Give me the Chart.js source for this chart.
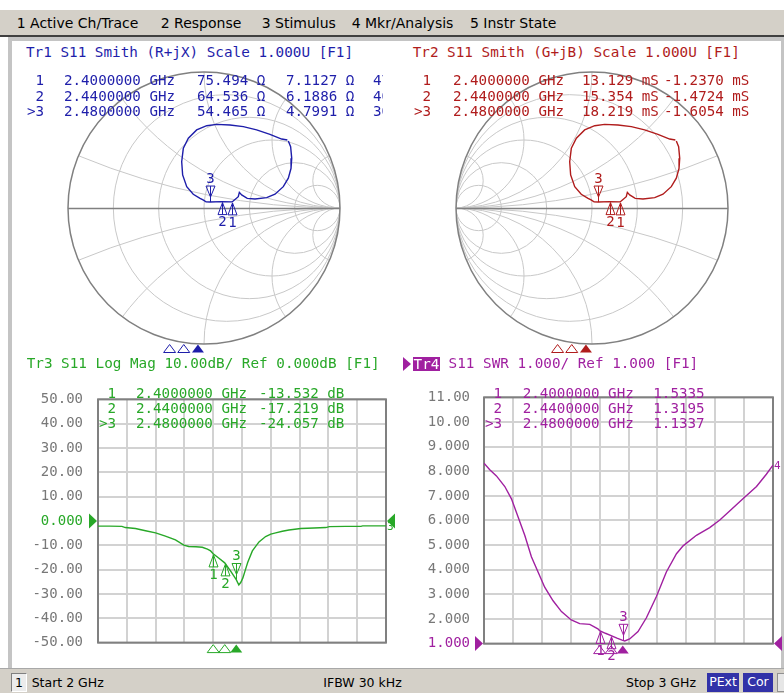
<!DOCTYPE html>
<html>
<head>
<meta charset="utf-8">
<title>S11 - 4 traces</title>
<script src="https://cdn.jsdelivr.net/npm/chart.js@4.4.1/dist/chart.umd.min.js"></script>
<style>
  html, body { margin: 0; padding: 0; }
  body { width: 784px; height: 693px; position: relative; overflow: hidden; background: #fff; font-family: "DejaVu Sans", sans-serif; }
  #menu { position: absolute; left: 0; top: 10px; width: 784px; height: 25px; background: #d4d0c8; border-bottom: 2px solid #404040; }
  #frame { position: absolute; left: 8px; top: 37px; width: 776px; height: 631px; box-sizing: border-box; border: 4px solid #c4c4c4; border-bottom: none; border-right-width: 3px; }
  #status { position: absolute; left: 0; top: 668px; width: 784px; height: 25px; background: #d4d0c8; border-top: 1px solid #a8a8a8; box-sizing: border-box; }
  canvas { position: absolute; z-index: 1; }
  .t { position: absolute; white-space: pre; line-height: 16px; z-index: 3; }
  .mono { font-family: "DejaVu Sans Mono", monospace; font-size: 14.2px; }
  .head { font-family: "DejaVu Sans Mono", monospace; font-size: 14.3px; }
  .ui { font-size: 14px; color: #000; }
  .st { font-size: 12.5px; color: #000; }
  .box { position: absolute; box-sizing: border-box; z-index: 3; text-align: center; font-size: 12.5px; line-height: 17px; }
</style>
</head>
<body>
<div id="menu"></div>
<div id="frame"></div>
<div id="status"></div>
<canvas id="smithZ" width="378" height="296" style="left:12px;top:60px"></canvas>
<canvas id="smithY" width="378" height="296" style="left:400px;top:60px"></canvas>
<canvas id="logMag" width="384" height="290" style="left:12px;top:376px"></canvas>
<canvas id="swr" width="384" height="291" style="left:400px;top:375px"></canvas>
<script>
  // --- data ---
  const freqGrid = [2.0, 2.1, 2.2, 2.3, 2.4, 2.5, 2.6, 2.7, 2.8, 2.9, 3.0];

  const logMagTicks = [50, 40, 30, 20, 10, 0, -10, -20, -30, -40, -50];
  const logMagTickLabels = ["50.00", "40.00", "30.00", "20.00", "10.00", "0.000", "-10.00", "-20.00", "-30.00", "-40.00", "-50.00"];
  const swrTicks = [11, 10, 9, 8, 7, 6, 5, 4, 3, 2, 1];
  const swrTickLabels = ["11.00", "10.00", "9.000", "8.000", "7.000", "6.000", "5.000", "4.000", "3.000", "2.000", "1.000"];

  // Tr3 log mag (GHz, dB)
  const logMagFreq = [2.000, 2.040, 2.083, 2.095, 2.130, 2.165, 2.200, 2.234, 2.269, 2.298,
    2.315, 2.340, 2.362, 2.380, 2.391, 2.400, 2.420, 2.440, 2.460, 2.480,
    2.489, 2.496, 2.503, 2.512, 2.520, 2.536, 2.559, 2.582, 2.600, 2.617,
    2.640, 2.663, 2.704, 2.750, 2.791, 2.803, 2.860, 2.913, 2.919, 3.000];
  const logMagDb = [-2.1, -2.1, -2.2, -2.7, -3.1, -4.0, -4.9, -6.2, -7.8, -9.9,
    -10.5, -10.6, -10.8, -11.6, -12.3, -13.5, -15.3, -17.2, -20.5, -24.1,
    -26.3, -25.2, -23.4, -20.0, -17.0, -12.3, -8.6, -6.4, -5.4, -4.9,
    -4.2, -3.7, -3.1, -2.9, -2.7, -2.3, -2.2, -2.2, -2.0, -2.0];

  // Tr4 SWR (GHz, ratio)
  const swrFreq = [2.000, 2.020, 2.043, 2.072, 2.095, 2.118, 2.141, 2.164, 2.187, 2.210,
    2.239, 2.268, 2.302, 2.331, 2.366, 2.394, 2.400, 2.420, 2.440, 2.460,
    2.480, 2.487, 2.504, 2.533, 2.562, 2.597, 2.631, 2.666, 2.689, 2.735,
    2.781, 2.816, 2.850, 2.896, 2.943, 2.977, 3.000];
  const swrVal = [8.33, 8.06, 7.81, 7.38, 6.88, 6.14, 5.40, 4.53, 3.91, 3.29,
    2.74, 2.30, 1.96, 1.81, 1.78, 1.60, 1.53, 1.42, 1.32, 1.22,
    1.13, 1.11, 1.19, 1.49, 2.05, 2.92, 3.91, 4.65, 4.97, 5.40,
    5.71, 6.02, 6.39, 6.88, 7.38, 7.88, 8.25];

  // Tr1/Tr2 reflection coefficient, in sweep order (same S11 on both Smith charts)
  const gammaRe = [0.620, 0.637, 0.645, 0.640, 0.620, 0.583, 0.522, 0.461, 0.375, 0.318,
    0.277, 0.260, 0.252, 0.215, 0.206, 0.130, 0.045, 0.015, -0.007, -0.029,
    -0.079, -0.127, -0.157, -0.164, -0.152, -0.115, -0.054, 0.020, 0.093, 0.191,
    0.289, 0.387, 0.485, 0.571, 0.613];
  const gammaIm = [0.493, 0.451, 0.365, 0.292, 0.219, 0.157, 0.101, 0.076, 0.066, 0.071,
    0.096, 0.115, 0.083, 0.051, 0.045, 0.047, 0.044, 0.045, 0.059, 0.071,
    0.101, 0.157, 0.243, 0.340, 0.439, 0.513, 0.574, 0.605, 0.615, 0.610,
    0.598, 0.574, 0.542, 0.507, 0.500];

  const smithCircles = [0.2, 0.5, 1, 2, 5];
  const smithArcs = [0.2, 0.5, 1, 2, 5];

  // markers
  const markerFreq = [2.4, 2.44, 2.48];
  const markerR = [75.494, 64.536, 54.465];
  const markerX = [7.1127, 6.1886, 4.7991];
  const markerL = [471.68, 403.67, 307.99];
  const markerG = [13.129, 15.354, 18.219];
  const markerB = [-1.2370, -1.4724, -1.6054];
  const markerLogMag = [-13.532, -17.219, -24.057];
  const markerSwr = [1.5335, 1.3195, 1.1337];
  const activeMarker = 2;

  const BLUE = "#1e1eaa", RED = "#b01c1c", GREEN = "#28a828", MAGENTA = "#a020a0";
  const GRID = "#d2d2d2", TICK = "#787878", SMITH_GRID = "#c8c8c8", EDGE = "#808080";

  // --- text helpers ---
  function addText(str, x, cy, color, cls, clipRight) {
    const el = document.createElement("div");
    el.className = "t " + cls;
    el.textContent = str;
    el.style.left = x + "px";
    el.style.top = (cy - 8) + "px";
    el.style.color = color;
    if (clipRight) {
      el.style.width = (clipRight - x) + "px";
      el.style.overflow = "hidden";
    }
    document.body.appendChild(el);
    return el;
  }
  function addBox(str, x, y, w, h, bg, fg, border) {
    const el = document.createElement("div");
    el.className = "box";
    el.textContent = str;
    Object.assign(el.style, { left: x + "px", top: y + "px", width: w + "px", height: h + "px", background: bg, color: fg, border: border || "none" });
    document.body.appendChild(el);
    return el;
  }

  const menuItems = [["1 Active Ch/Trace", 16.7], ["2 Response", 160.7], ["3 Stimulus", 261.7], ["4 Mkr/Analysis", 351.7], ["5 Instr State", 470]];
  menuItems.forEach(([s, x]) => addText(s, x, 23, "#000", "ui"));

  addText("Tr1 S11 Smith (R+jX) Scale 1.000U [F1]", 26, 51.7, BLUE, "head");
  addText("Tr2 S11 Smith (G+jB) Scale 1.000U [F1]", 412.7, 51.7, RED, "head");
  addText("Tr3 S11 Log Mag 10.00dB/ Ref 0.000dB [F1]", 26.7, 363.3, GREEN, "head");
  // active trace tag
  const tri = document.createElement("div");
  Object.assign(tri.style, { position: "absolute", left: "403px", top: "356.5px", width: 0, height: 0, borderLeft: "8px solid " + MAGENTA, borderTop: "7px solid transparent", borderBottom: "7px solid transparent", zIndex: 3 });
  document.body.appendChild(tri);
  const tag = addBox("Tr4", 413, 357, 27, 14, MAGENTA, "#fff");
  tag.style.fontFamily = '"DejaVu Sans Mono", monospace';
  tag.style.fontSize = "14.3px";
  tag.style.lineHeight = "14px";
  addText(" S11 SWR 1.000/ Ref 1.000 [F1]", 440, 363.3, MAGENTA, "head");

  const ghz = (f) => f.toFixed(7) + " GHz";
  const tag3 = (i) => (i === activeMarker ? ">" : " ") + (i + 1);
  const rowsTop = [80, 95.5, 111];
  const rowsBottom = [393, 408, 423];
  markerFreq.forEach((f, i) => {
    addText(tag3(i), 27, rowsTop[i], BLUE, "mono");
    addText(ghz(f), 64, rowsTop[i], BLUE, "mono");
    addText(markerR[i].toFixed(3) + " Ω", 197, rowsTop[i], BLUE, "mono");
    addText(markerX[i].toFixed(4) + " Ω", 286, rowsTop[i], BLUE, "mono");
    addText(markerL[i].toFixed(2) + " pH", 373, rowsTop[i], BLUE, "mono", 383);

    addText(tag3(i), 414, rowsTop[i], RED, "mono");
    addText(ghz(f), 453, rowsTop[i], RED, "mono");
    addText(markerG[i].toFixed(3) + " mS", 582, rowsTop[i], RED, "mono");
    addText(markerB[i].toFixed(4) + " mS", 664, rowsTop[i], RED, "mono");

    addText(tag3(i), 99, rowsBottom[i], GREEN, "mono");
    addText(ghz(f), 136, rowsBottom[i], GREEN, "mono");
    addText(markerLogMag[i].toFixed(3) + " dB", 259, rowsBottom[i], GREEN, "mono");

    addText(tag3(i), 485, rowsBottom[i], MAGENTA, "mono");
    addText(ghz(f), 522.7, rowsBottom[i], MAGENTA, "mono");
    addText(markerSwr[i].toFixed(4), 653.3, rowsBottom[i], MAGENTA, "mono");
  });

  // status bar
  addBox("1", 11, 673, 16, 19, "#ececec", "#000", "1px solid").style.borderColor = "#808080 #fff #fff #808080";
  addText("Start 2 GHz", 31.7, 682.5, "#000", "st");
  addText("IFBW 30 kHz", 323.3, 682.5, "#000", "st");
  addText("Stop 3 GHz", 626, 682.5, "#000", "st");
  addBox("PExt", 707, 673, 32, 19, "#3232a8", "#fff");
  addBox("Cor", 743, 673, 30, 19, "#3232a8", "#fff");
  addBox("", 777, 673, 8, 19, "#e6e6e6", "#000", "1px solid #909090");

  // --- plugins ---
  function markerPlugin(cfg) {
    return {
      id: "vnaMarkers",
      afterDatasetsDraw(chart) {
        const { ctx, scales: { x, y } } = chart;
        ctx.save();
        ctx.strokeStyle = cfg.color;
        ctx.fillStyle = cfg.color;
        ctx.lineWidth = 1;
        ctx.font = '14px "DejaVu Sans Mono"';
        ctx.textAlign = "center";
        ctx.textBaseline = "middle";
        cfg.points.forEach((p, i) => {
          const px = Math.round(x.getPixelForValue(p[0])) + 0.5;
          const py = y.getPixelForValue(p[1]);
          if (i === cfg.active) {
            ctx.beginPath();
            ctx.moveTo(px - 4.5, py - 16); ctx.lineTo(px + 4.5, py - 16); ctx.lineTo(px, py - 5);
            ctx.closePath(); ctx.stroke();
            ctx.beginPath(); ctx.moveTo(px, py - 16); ctx.lineTo(px, py); ctx.stroke();
            ctx.fillText(String(i + 1), px, py - 23);
          } else {
            ctx.beginPath();
            ctx.moveTo(px, py + 1); ctx.lineTo(px + 4.5, py + 13); ctx.lineTo(px - 4.5, py + 13);
            ctx.closePath(); ctx.stroke();
            ctx.beginPath(); ctx.moveTo(px, py + 1); ctx.lineTo(px, py + 13); ctx.stroke();
            ctx.fillText(String(i + 1), px, py + 21);
          }
        });
        // stimulus position indicators under the graticule
        markerFreq.forEach((f, i) => {
          const sx = cfg.stimX(chart, f);
          const sy = chart.chartArea.bottom + cfg.stimGap;
          ctx.beginPath();
          ctx.moveTo(sx, sy); ctx.lineTo(sx + 6, sy + 8); ctx.lineTo(sx - 6, sy + 8);
          ctx.closePath();
          if (i === cfg.active) ctx.fill(); else ctx.stroke();
        });
        ctx.restore();
      },
    };
  }

  function framePlugin(cfg) {
    return {
      id: "vnaFrame",
      beforeDatasetsDraw(chart) {
        const { ctx, chartArea: a } = chart;
        ctx.save();
        ctx.strokeStyle = EDGE;
        ctx.lineWidth = 2;
        ctx.strokeRect(a.left, a.top, a.width, a.height);
        ctx.restore();
      },
      afterDatasetsDraw(chart) {
        const { ctx, chartArea: a, scales: { y } } = chart;
        const ry = y.getPixelForValue(cfg.ref);
        ctx.save();
        ctx.fillStyle = cfg.color;
        ctx.beginPath();
        ctx.moveTo(a.left - 1, ry); ctx.lineTo(a.left - 9, ry - 7.5); ctx.lineTo(a.left - 9, ry + 7.5);
        ctx.closePath(); ctx.fill();
        ctx.beginPath();
        ctx.moveTo(a.right + 1, ry); ctx.lineTo(a.right + 9, ry - 7.5); ctx.lineTo(a.right + 9, ry + 7.5);
        ctx.closePath(); ctx.fill();
        // trace number at the end of the sweep
        const endY = y.getPixelForValue(cfg.values[cfg.values.length - 1]);
        ctx.font = '11px "DejaVu Sans Mono"';
        ctx.textAlign = "left";
        ctx.textBaseline = "middle";
        ctx.fillText(cfg.traceNo, a.right + 1, endY + 1);
        ctx.restore();
      },
    };
  }

  function smithGridPlugin(admittance) {
    return {
      id: "smithGrid",
      beforeDatasetsDraw(chart) {
        const { ctx, scales: { x, y } } = chart;
        const cx = x.getPixelForValue(0), cy = y.getPixelForValue(0);
        const R = x.getPixelForValue(1) - cx;
        const s = admittance ? -1 : 1;
        ctx.save();
        ctx.beginPath();
        ctx.arc(cx, cy, R, 0, Math.PI * 2);
        ctx.clip();
        ctx.strokeStyle = SMITH_GRID;
        ctx.lineWidth = 1;
        smithCircles.forEach((r) => {
          ctx.beginPath();
          ctx.arc(x.getPixelForValue(s * r / (1 + r)), cy, R / (1 + r), 0, Math.PI * 2);
          ctx.stroke();
        });
        smithArcs.forEach((v) => {
          [1, -1].forEach((sg) => {
            ctx.beginPath();
            ctx.arc(x.getPixelForValue(s), y.getPixelForValue(sg / v), R / v, 0, Math.PI * 2);
            ctx.stroke();
          });
        });
        ctx.restore();
        ctx.save();
        ctx.strokeStyle = EDGE;
        ctx.lineWidth = 1.5;
        ctx.beginPath();
        ctx.arc(cx, cy, R, 0, Math.PI * 2);
        ctx.stroke();
        ctx.beginPath();
        ctx.moveTo(cx - R, Math.round(cy) + 0.5);
        ctx.lineTo(cx + R, Math.round(cy) + 0.5);
        ctx.stroke();
        ctx.restore();
      },
    };
  }

  // --- charts ---
  function gammaFromZ(r, xv) {
    const zr = r / 50, zi = xv / 50;
    const nr = zr - 1, dr = zr + 1;
    const d = dr * dr + zi * zi;
    return [(nr * dr + zi * zi) / d, (zi * dr - nr * zi) / d];
  }
  const markerGamma = markerR.map((r, i) => gammaFromZ(r, markerX[i]));

  function makeSmith(id, color, admittance) {
    return new Chart(document.getElementById(id), {
      type: "scatter",
      data: {
        datasets: [{
          data: gammaRe.map((g, i) => ({ x: g, y: gammaIm[i] })),
          showLine: true,
          borderColor: color,
          borderWidth: 1.4,
          pointRadius: 0,
          tension: 0,
        }],
      },
      options: {
        responsive: false,
        animation: false,
        events: [],
        layout: { padding: { left: 56, right: 50, top: 12, bottom: 12 } },
        plugins: { legend: { display: false }, tooltip: { enabled: false } },
        scales: {
          x: { type: "linear", min: -1, max: 1, display: false },
          y: { type: "linear", min: -1, max: 1, display: false },
        },
      },
      plugins: [
        smithGridPlugin(admittance),
        markerPlugin({
          color, active: activeMarker, points: markerGamma, stimGap: 0.5,
          stimX: (chart, f) => chart.chartArea.left - 40 + (f - 2) * (chart.chartArea.width + 82),
        }),
      ],
    });
  }

  function makeLine(id, cfg) {
    return new Chart(document.getElementById(id), {
      type: "line",
      data: {
        datasets: [{
          data: cfg.freq.map((f, i) => ({ x: f, y: cfg.values[i] })),
          borderColor: cfg.color,
          borderWidth: 1.4,
          pointRadius: 0,
          tension: 0,
          fill: false,
        }],
      },
      options: {
        responsive: false,
        animation: false,
        events: [],
        layout: { padding: cfg.padding },
        plugins: { legend: { display: false }, tooltip: { enabled: false } },
        scales: {
          x: {
            type: "linear", min: 2, max: 3,
            afterBuildTicks: (s) => { s.ticks = freqGrid.map((v) => ({ value: v })); },
            ticks: { display: false },
            grid: { color: GRID, lineWidth: 2, drawTicks: false },
            border: { display: false },
          },
          y: {
            type: "linear",
            min: cfg.ticks[cfg.ticks.length - 1], max: cfg.ticks[0],
            afterBuildTicks: (s) => { s.ticks = cfg.ticks.map((v) => ({ value: v })); },
            afterFit: (s) => { s.width = cfg.axisWidth; },
            ticks: {
              autoSkip: false,
              padding: cfg.tickPad,
              font: { family: "DejaVu Sans Mono", size: 14 },
              color: (c) => (c.tick && c.tick.value === cfg.ref ? cfg.color : TICK),
              callback: (v) => cfg.labels[cfg.ticks.indexOf(v)],
            },
            grid: { color: GRID, lineWidth: 2, drawTicks: false },
            border: { display: false },
          },
        },
      },
      plugins: [
        framePlugin(cfg),
        markerPlugin({
          color: cfg.color, active: activeMarker, stimGap: 2,
          points: markerFreq.map((f, i) => [f, cfg.markers[i]]),
          stimX: (chart, f) => chart.scales.x.getPixelForValue(f),
        }),
      ],
    });
  }

  makeSmith("smithZ", BLUE, false);
  makeSmith("smithY", RED, true);

  makeLine("logMag", {
    freq: logMagFreq, values: logMagDb, markers: markerLogMag,
    ticks: logMagTicks, labels: logMagTickLabels, ref: 0,
    color: GREEN, traceNo: "3", axisWidth: 86, tickPad: 15,
    padding: { top: 11, right: 10, bottom: 11, left: 0 },
  });
  makeLine("swr", {
    freq: swrFreq, values: swrVal, markers: markerSwr,
    ticks: swrTicks, labels: swrTickLabels, ref: 1,
    color: MAGENTA, traceNo: "4", axisWidth: 84, tickPad: 14,
    padding: { top: 11, right: 11, bottom: 11, left: 0 },
  });
</script>
</body>
</html>
